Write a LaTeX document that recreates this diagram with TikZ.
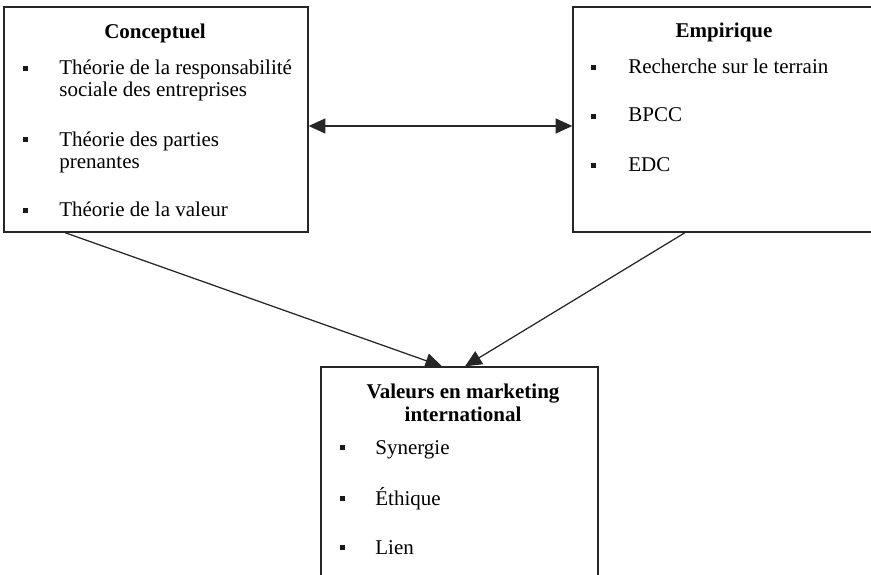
\documentclass[tikz,border=0pt]{standalone}
\usepackage{fontspec}
\setmainfont{Liberation Serif}
\usetikzlibrary{arrows.meta,fit}

\begin{document}
\begin{tikzpicture}[x=0.6pt, y=-0.6pt,
  panel/.style={draw=black!85, line width=0.8pt, inner sep=0pt},
  heading/.style={anchor=base, inner sep=0pt, font=\bfseries\fontsize{12.6}{14.5}\selectfont},
  entry/.style={anchor=base west, inner sep=0pt, font=\fontsize{12.6}{14.5}\selectfont},
  puce/.style={fill=black!90, inner sep=0pt, minimum size=3pt},
  link/.style={draw=black!85, line width=0.75pt, -{Triangle[length=10pt,width=9pt]}}]
\useasboundingbox (0,0) rectangle (871,575);
\clip (0,0) rectangle (871,575);

\node[panel, fit={(4,7) (308,232)}] (concept) {};
\node[panel, fit={(573,7) (880,232)}] (empir) {};
\node[panel, fit={(321,367) (598,590)}] (valeurs) {};

\node[heading] (hconcept) at (155,39) {Conceptuel};
\node[entry] (rse1) at (59,75) {Théorie de la responsabilité};
\node[entry] (rse2) at (59,97) {sociale des entreprises};
\node[entry] (pp1) at (59,147) {Théorie des parties};
\node[entry] (pp2) at (59,169) {prenantes};
\node[entry] (tval) at (59,217) {Théorie de la valeur};

\node[heading] (hempir) at (724,38) {Empirique};
\node[entry] (terrain) at (628,74) {Recherche sur le terrain};
\node[entry] (bpcc) at (628,122) {BPCC};
\node[entry] (edc) at (628,172) {EDC};

\node[heading] (hval1) at (463,399) {Valeurs en marketing};
\node[heading] (hval2) at (463,422) {international};
\node[entry] (synergie) at (375,455) {Synergie};
\node[entry] (ethique) at (375,505) {Éthique};
\node[entry] (lien) at (375,554) {Lien};

\foreach \n/\x/\y in {a/25/69, b/25/140, c/25/211,
                      d/593/68, e/593/117, f/593/166,
                      g/342/448, h/342/498, i/342/547}
  \node[puce] (puce\n) at (\x,\y) {};

\draw[link, {Triangle[length=10pt,width=9pt]}-{Triangle[length=10pt,width=9pt]}]
  ([yshift=-3.9pt]concept.east) -- ([yshift=-3.9pt]empir.west);
\draw[link] ([xshift=-54.6pt]concept.south) -- ([xshift=-10.5pt]valeurs.north);
\draw[link] ([xshift=-24.9pt]empir.south) -- ([xshift=3.3pt]valeurs.north);
\end{tikzpicture}
\end{document}
